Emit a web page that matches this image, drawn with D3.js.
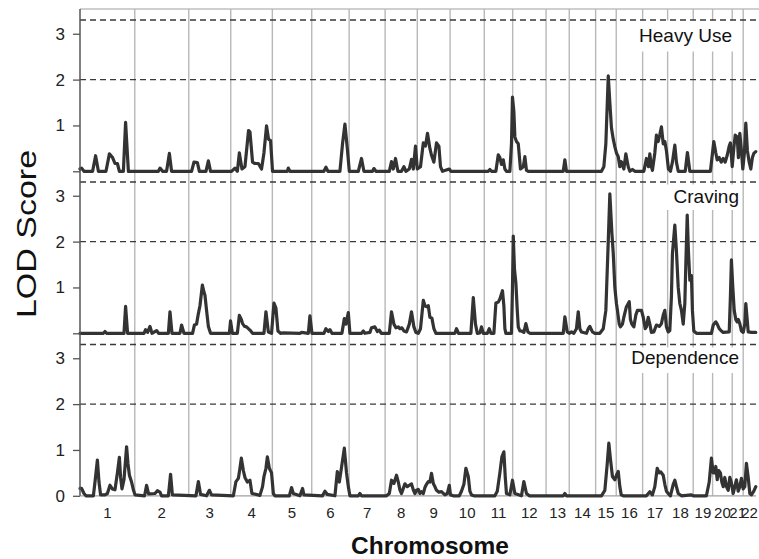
<!DOCTYPE html>
<html>
<head>
<meta charset="utf-8">
<script src="https://cdn.jsdelivr.net/npm/d3@7"></script>
<style>
  html, body { margin: 0; padding: 0; background: #fff; }
  svg { display: block; }
  text { font-family: Arial, "Liberation Sans", sans-serif; }
</style>
</head>
<body>
<svg id="chart" width="759" height="559"></svg>
<script>
// ---------- data ----------
const chromosomes = ["1","2","3","4","5","6","7","8","9","10","11","12","13","14","15","16","17","18","19","20","21","22"];
// approximate genetic lengths (cM)
const chrLengths = [274, 270, 210, 208, 197, 187, 180, 161, 164, 171, 142, 167, 116, 132, 103, 132, 125, 128, 97, 98, 55, 64];
const yTicks = [0, 1, 2, 3];
const thresholds = [2.0, 3.3];
const panelNames = ["Heavy Use", "Craving", "Dependence"];

// [genome position (cM, cumulative), LOD]
const heavyUse = [
  [0,0.05],[8,0.07],[20,0],[63,0],[78,0.34],[92,0],[130,0],[147,0.38],[163,0.3],[175,0.17],[187,0.17],[197,0],
  [217,0],[228,1.07],[242,0],[392,0],[400,0.07],[413,0],[433,0],[447,0.39],[458,0],[558,0],[570,0.2],[587,0.19],
  [597,0],[630,0],[642,0.23],[653,0],[758,0],[775,0.07],[787,0],[797,0.4],[810,0.05],[825,0.1],[843,0.89],[850,0.86],
  [863,0.2],[875,0.17],[892,0.17],[908,0.05],[920,0.4],[933,0.99],[943,0.7],[953,0.67],[963,0],[1037,0],[1042,0.07],
  [1050,0],[1220,0],[1230,0.09],[1240,0],[1300,0],[1313,0.6],[1325,1.03],[1337,0.5],[1347,0],[1392,0],[1408,0.28],
  [1420,0],[1463,0],[1470,0.06],[1480,0],[1547,0],[1558,0.21],[1567,0.05],[1578,0.28],[1590,0],[1608,0],[1620,0.1],
  [1630,0],[1647,0.05],[1658,0.26],[1667,0.05],[1678,0.55],[1687,0.05],[1703,0.1],[1717,0.62],[1728,0.55],[1738,0.83],
  [1750,0.5],[1758,0.35],[1770,0.2],[1783,0.62],[1795,0.55],[1803,0.1],[1813,0],[1847,0.05],[1855,0],[2042,0],
  [2050,0.04],[2058,0],[2080,0],[2092,0.36],[2100,0.3],[2108,0.15],[2117,0.25],[2125,0.05],[2133,0],[2150,0],
  [2158,0.6],[2163,1.62],[2170,1.3],[2175,0.75],[2183,0.65],[2192,0.6],[2200,0.2],[2203,0.05],[2217,0.1],[2225,0.32],
  [2233,0.02],[2242,0],[2417,0],[2425,0.25],[2433,0],[2608,0],[2620,0.1],[2630,0.6],[2642,2.08],[2650,1.5],[2658,0.95],
  [2667,0.7],[2675,0.54],[2683,0.4],[2692,0.32],[2700,0.1],[2708,0.21],[2720,0.05],[2730,0.38],[2742,0.1],[2750,0],
  [2763,0.04],[2775,0],[2820,0],[2833,0.28],[2843,0.1],[2850,0.38],[2858,0.1],[2863,0.02],[2875,0.4],[2883,0.79],
  [2892,0.65],[2900,0.8],[2908,0.97],[2917,0.6],[2925,0.65],[2933,0.45],[2943,0.05],[2953,0],[2963,0.2],[2975,0.57],
  [2983,0.2],[2992,0],[3027,0],[3038,0.41],[3050,0],[3153,0],[3170,0.65],[3180,0.4],[3187,0.25],[3197,0.3],[3207,0.2],
  [3217,0.28],[3227,0.2],[3237,0.35],[3247,0.55],[3253,0.62],[3262,0.1],[3270,0.5],[3277,0.79],[3287,0.75],[3293,0.3],
  [3300,0.83],[3308,0.45],[3315,0.05],[3323,0.4],[3330,1.05],[3338,0.45],[3347,0.2],[3355,0.05],[3363,0.3],[3370,0.39],
  [3380,0.43]
];

const craving = [
  [0,0],[117,0],[125,0.04],[133,0],[220,0],[228,0.59],[238,0],[320,0],[328,0.08],[338,0.02],[350,0.15],[360,0],
  [383,0.06],[393,0],[442,0],[450,0.47],[460,0],[500,0],[508,0.18],[520,0],[563,0],[572,0.18],[583,0.2],[592,0.43],
  [600,0.6],[612,1.05],[620,0.9],[625,0.83],[633,0.5],[642,0.15],[653,0],[747,0],[753,0.27],[762,0],[787,0],[797,0.39],
  [807,0.3],[813,0.21],[823,0.15],[833,0.14],[850,0.07],[863,0],[920,0],[930,0.47],[942,0.03],[958,0],[970,0.66],
  [980,0.55],[990,0.05],[1003,0],[1017,0.01],[1100,0],[1108,0.02],[1142,0],[1150,0.38],[1160,0],[1220,0],[1230,0.1],
  [1242,0.04],[1250,0.08],[1260,0],[1310,0],[1322,0.32],[1330,0.2],[1342,0.45],[1350,0],[1408,0],[1417,0.05],[1425,0],
  [1450,0.02],[1458,0.12],[1475,0.14],[1487,0.04],[1497,0.07],[1507,0],[1547,0],[1558,0.47],[1570,0.2],[1580,0.12],
  [1592,0.14],[1600,0.1],[1610,0.12],[1620,0.05],[1633,0.03],[1647,0.2],[1658,0.47],[1670,0.14],[1680,0.02],[1692,0],
  [1703,0.1],[1717,0.72],[1725,0.6],[1733,0.58],[1742,0.6],[1750,0.35],[1760,0.33],[1770,0.1],[1780,0],[1875,0],
  [1883,0.1],[1893,0],[1955,0],[1967,0.78],[1978,0.2],[1987,0],[2000,0.01],[2008,0.14],[2017,0],[2037,0],[2047,0.1],
  [2055,0],[2070,0],[2080,0.66],[2092,0.68],[2100,0.75],[2113,0.93],[2120,0.6],[2125,0.1],[2130,0],[2158,0],[2163,1.0],
  [2167,2.12],[2173,1.4],[2180,1.1],[2187,0.5],[2192,0.14],[2200,0.05],[2208,0.05],[2220,0.02],[2230,0.21],[2240,0.03],
  [2250,0],[2417,0],[2425,0.36],[2437,0.03],[2447,0],[2458,0.03],[2470,0],[2483,0.1],[2492,0.47],[2500,0.1],[2508,0.03],
  [2533,0],[2542,0.1],[2550,0.15],[2563,0.03],[2575,0],[2600,0],[2617,0.1],[2630,0.5],[2642,2.0],[2650,3.04],[2660,2.2],
  [2667,1.75],[2675,1.0],[2683,0.65],[2688,0.5],[2697,0.2],[2703,0.14],[2713,0.2],[2720,0.35],[2733,0.58],[2747,0.69],
  [2753,0.3],[2760,0.2],[2770,0.14],[2780,0.4],[2788,0.5],[2797,0.5],[2808,0.5],[2817,0.35],[2827,0.1],[2833,0.14],
  [2842,0.35],[2850,0.2],[2858,0.02],[2870,0.03],[2883,0.18],[2897,0.15],[2908,0.21],[2917,0.4],[2925,0.5],[2933,0.14],
  [2942,0.03],[2950,0.06],[2958,0.8],[2963,1.74],[2975,2.36],[2983,1.8],[2992,1.0],[3000,0.65],[3008,0.5],[3017,0.2],
  [3025,0.65],[3030,1.5],[3037,2.58],[3043,1.8],[3050,1.16],[3058,1.26],[3063,0.5],[3070,0.05],[3083,0],[3158,0],
  [3167,0.18],[3180,0.25],[3187,0.2],[3197,0.1],[3208,0.05],[3217,0.02],[3247,0.03],[3253,0.8],[3258,1.6],[3265,1.0],
  [3272,0.5],[3280,0.3],[3287,0.25],[3293,0.3],[3300,0.21],[3308,0.05],[3317,0.02],[3325,0.2],[3330,0.65],[3337,0.3],
  [3342,0.03],[3358,0.02],[3380,0.02]
];

const dependence = [
  [0,0.16],[8,0.16],[20,0.05],[30,0],[67,0],[75,0.3],[87,0.78],[95,0.3],[103,0.02],[125,0.02],[137,0.05],[150,0.23],
  [162,0.15],[175,0.13],[187,0.5],[197,0.84],[203,0.4],[210,0.15],[220,0.35],[233,1.07],[240,0.7],[247,0.45],[258,0.3],
  [267,0.13],[275,0.02],[323,0],[333,0.23],[343,0.04],[375,0.05],[387,0.11],[400,0.08],[408,0],[442,0],[453,0.47],
  [462,0.02],[580,0],[592,0.31],[603,0.03],[633,0],[647,0.12],[658,0.02],[767,0],[780,0.31],[792,0.38],[800,0.6],
  [807,0.82],[817,0.55],[825,0.4],[837,0.3],[850,0.34],[860,0.05],[900,0.01],[913,0.2],[920,0.42],[930,0.6],[937,0.85],
  [947,0.6],[958,0.5],[967,0.05],[975,0],[1047,0],[1058,0.18],[1067,0.05],[1100,0],[1113,0.16],[1120,0.02],[1213,0],
  [1225,0.1],[1237,0.03],[1275,0],[1287,0.53],[1297,0.3],[1308,0.62],[1322,1.04],[1333,0.5],[1342,0.2],[1350,0],
  [1392,0],[1400,0.05],[1408,0],[1533,0],[1547,0.05],[1558,0.34],[1570,0.27],[1583,0.45],[1592,0.3],[1600,0.13],
  [1608,0.05],[1625,0.26],[1637,0.2],[1647,0.23],[1658,0.26],[1667,0.13],[1675,0.05],[1683,0.12],[1692,0.14],
  [1700,0.05],[1708,0.09],[1717,0.05],[1725,0.18],[1733,0.25],[1742,0.31],[1750,0.3],[1758,0.49],[1767,0.27],
  [1775,0.2],[1783,0.12],[1795,0.08],[1808,0.09],[1825,0.02],[1837,0.05],[1847,0.23],[1853,0.02],[1867,0],[1897,0],
  [1908,0.1],[1920,0.25],[1930,0.6],[1942,0.42],[1950,0.1],[1958,0.02],[1970,0],[2075,0],[2087,0.1],[2100,0.5],
  [2110,0.85],[2120,0.96],[2127,0.4],[2133,0.05],[2150,0.02],[2163,0.34],[2175,0.05],[2208,0],[2220,0.31],[2233,0.05],
  [2247,0],[2417,0],[2425,0.05],[2433,0],[2608,0],[2625,0.12],[2637,0.7],[2645,1.15],[2653,0.8],[2663,0.42],[2675,0.35],
  [2683,0.45],[2692,0.53],[2700,0.2],[2707,0.02],[2717,0],[2833,0],[2850,0.09],[2863,0.02],[2875,0.2],[2887,0.6],
  [2897,0.5],[2905,0.52],[2917,0.45],[2925,0.25],[2933,0.1],[2942,0.05],[2953,0],[2967,0.25],[2975,0.34],[2983,0.2],
  [2992,0.05],[3008,0],[3058,0.02],[3067,0],[3133,0],[3147,0.3],[3158,0.82],[3167,0.5],[3175,0.5],[3180,0.64],
  [3187,0.35],[3195,0.55],[3203,0.5],[3210,0.3],[3217,0.2],[3225,0.4],[3233,0.2],[3242,0.12],[3250,0.4],[3257,0.3],
  [3267,0.05],[3275,0.2],[3283,0.35],[3292,0.1],[3300,0.2],[3308,0.38],[3317,0.15],[3325,0.2],[3333,0.71],[3342,0.4],
  [3350,0.05],[3358,0.02],[3370,0.1],[3380,0.2]
];

const seriesList = [heavyUse, craving, dependence];

// ---------- layout ----------
const svg = d3.select("#chart");
const plotLeft = 80, plotRight = 756;
const panelTops = [9, 171, 333.5];
const panelH = 162.3;
const yMax = 3.54;

const ends = d3.cumsum(chrLengths);
const starts = ends.map((e, i) => e - chrLengths[i]);
const total = ends[ends.length - 1];

const x = d3.scaleLinear().domain([0, total]).range([plotLeft, plotRight]);
const yScales = panelTops.map(t => d3.scaleLinear().domain([0, yMax]).range([t + panelH, t]));

const plotTop = panelTops[0];
const plotBottom = panelTops[2] + panelH;

// top border
svg.append("line")
  .attr("x1", plotLeft).attr("x2", 759)
  .attr("y1", plotTop).attr("y2", plotTop)
  .attr("stroke", "#a0a0a0").attr("stroke-width", 1.2);

// chromosome boundary lines
svg.append("g").selectAll("line")
  .data(ends.slice(0, -1))
  .join("line")
  .attr("x1", d => x(d)).attr("x2", d => x(d))
  .attr("y1", plotTop).attr("y2", plotBottom)
  .attr("stroke", "#b8b8b8").attr("stroke-width", 1.4);

// baseline of bottom panel
svg.append("line")
  .attr("x1", plotLeft).attr("x2", plotRight)
  .attr("y1", plotBottom).attr("y2", plotBottom)
  .attr("stroke", "#a0a0a0").attr("stroke-width", 1.2);

// label boxes (white) covering gridlines
const labelBoxes = [
  {x0: 625, x1: 738, y0: 20.5, y1: 51.5},
  {x0: 655, x1: 738, y0: 184.5, y1: 210},
  {x0: 625, x1: 738, y0: 347.5, y1: 373}
];
svg.append("g").selectAll("rect")
  .data(labelBoxes)
  .join("rect")
  .attr("x", d => d.x0).attr("y", d => d.y0)
  .attr("width", d => d.x1 - d.x0).attr("height", d => d.y1 - d.y0)
  .attr("fill", "#fff");

// threshold dashed lines
yScales.forEach(y => {
  svg.append("g").selectAll("line")
    .data(thresholds)
    .join("line")
    .attr("x1", plotLeft).attr("x2", 759)
    .attr("y1", d => y(d)).attr("y2", d => y(d))
    .attr("stroke", "#3a3a3a").attr("stroke-width", 1.4)
    .attr("stroke-dasharray", "6,4");
});

// data lines
const line = d3.line().curve(d3.curveLinear);
seriesList.forEach((s, i) => {
  const y = yScales[i];
  svg.append("path")
    .datum(s)
    .attr("d", line.x(d => x(d[0])).y(d => y(d[1])))
    .attr("fill", "none")
    .attr("stroke", "#333")
    .attr("stroke-width", 3.2)
    .attr("stroke-linejoin", "round")
    .attr("stroke-linecap", "round");
});

// panel labels
const labelPos = [
  {x: 732, y: 41.5},
  {x: 739, y: 202.5},
  {x: 739, y: 363.5}
];
svg.append("g").selectAll("text")
  .data(panelNames)
  .join("text")
  .attr("x", (d, i) => labelPos[i].x)
  .attr("y", (d, i) => labelPos[i].y)
  .attr("text-anchor", "end")
  .attr("font-size", 19)
  .attr("fill", "#111")
  .text(d => d);

// y axes
yScales.forEach((y, i) => {
  const ticks = i === 2 ? yTicks : yTicks.filter(t => t > 0);
  const axis = d3.axisLeft(y).tickValues(yTicks).tickSize(7).tickPadding(8)
    .tickFormat(d => ticks.includes(d) ? d3.format("d")(d) : "");
  const g = svg.append("g").attr("transform", `translate(${plotLeft},0)`).call(axis);
  g.select(".domain").attr("stroke", "#555").attr("stroke-width", 1.5)
    .attr("d", `M0,${y.range()[1]}V${y.range()[0]}`);
  g.selectAll(".tick line").attr("stroke", "#555").attr("stroke-width", 1.3);
  g.selectAll(".tick text").attr("font-size", 17).attr("fill", "#222")
    .attr("font-family", "Arial, 'Liberation Sans', sans-serif");
});

// x labels (chromosome centers)
svg.append("g").selectAll("text")
  .data(chromosomes)
  .join("text")
  .attr("x", (d, i) => x((starts[i] + ends[i]) / 2))
  .attr("y", 518)
  .attr("text-anchor", "middle")
  .attr("font-size", 15)
  .attr("fill", "#222")
  .text(d => d);

// axis titles
svg.append("text")
  .attr("x", 430).attr("y", 554)
  .attr("text-anchor", "middle")
  .attr("font-size", 24.5)
  .attr("font-weight", "bold")
  .attr("fill", "#111")
  .text("Chromosome");

svg.append("text")
  .attr("transform", "translate(36,234) rotate(-90) scale(1,0.82)")
  .attr("text-anchor", "middle")
  .attr("font-size", 34)
  .attr("fill", "#111")
  .text("LOD Score");
</script>
</body>
</html>
